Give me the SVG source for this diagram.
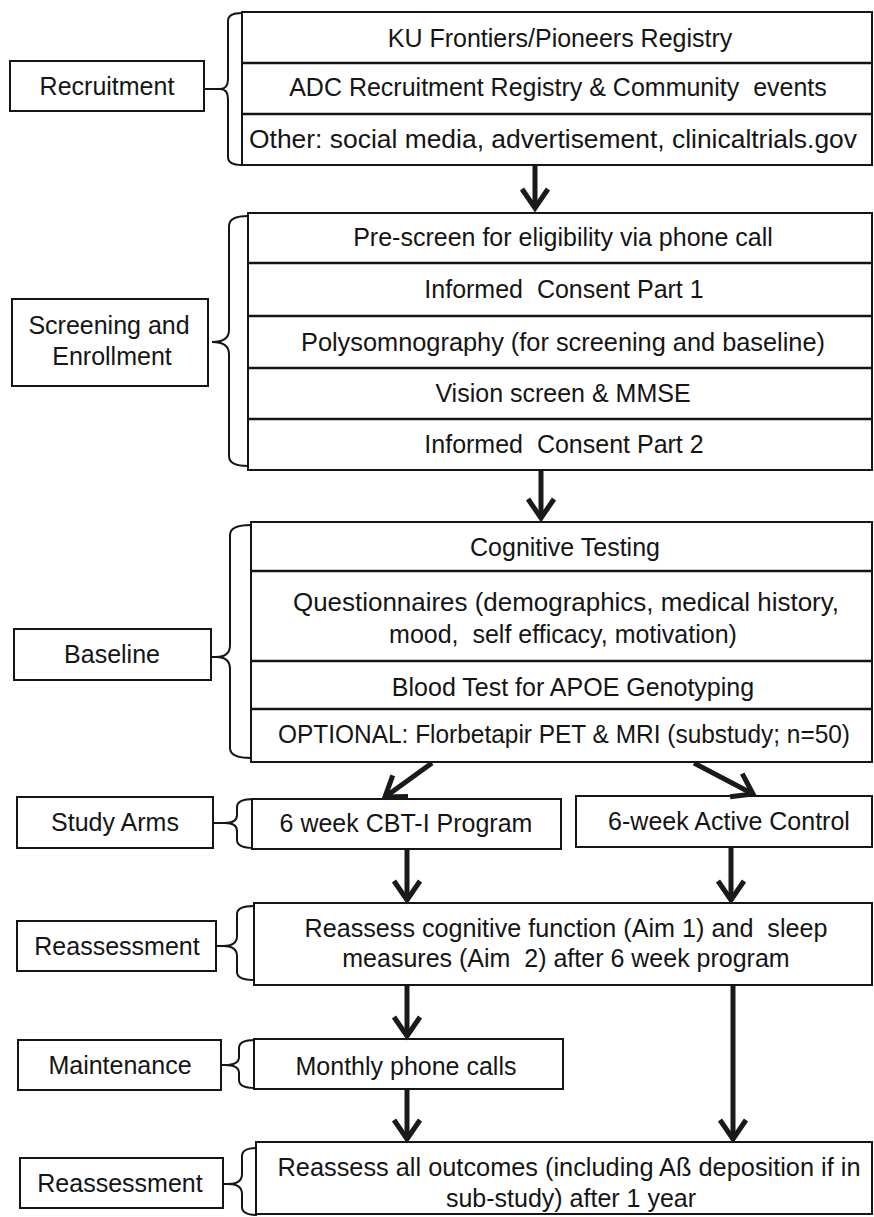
<svg xmlns="http://www.w3.org/2000/svg" width="874" height="1217" viewBox="0 0 874 1217">
<style>
.bx{fill:#fff;stroke:#151515;stroke-width:2}
.rl{stroke:#151515;stroke-width:2.5}
.br{fill:none;stroke:#151515;stroke-width:2}
.t{font-family:"Liberation Sans",Arial,sans-serif;font-size:25px;fill:#151515;text-anchor:middle;white-space:pre}
.ar{fill:none;stroke:#1a1a1a;stroke-width:5}
</style>
<defs>
<marker id="ah" markerUnits="userSpaceOnUse" markerWidth="40" markerHeight="40" viewBox="-24 -20 30 40" refX="0" refY="0" orient="auto">
<path d="M-19,-13 L0,0 L-19,13" fill="none" stroke="#1a1a1a" stroke-width="5" stroke-linejoin="miter"/>
</marker>
</defs>
<rect width="874" height="1217" fill="#fff"/>

<g id="recruitment">
<rect class="bx" x="10" y="61" width="194" height="50"/>
<text class="t" x="107" y="95">Recruitment</text>
<path class="br" d="M204,89 L220,89 M242,13 Q228,13 228,21 L228,79 Q228,89 220,89 Q228,89 228,99 L228,157 Q228,165 242,165"/>
<rect class="bx" x="242" y="12" width="630" height="153"/>
<line class="rl" x1="242" y1="63" x2="872" y2="63"/>
<line class="rl" x1="242" y1="114" x2="872" y2="114"/>
<text class="t" x="560" y="47">KU Frontiers/Pioneers Registry</text>
<text class="t" x="558" y="96">ADC Recruitment Registry &amp; Community  events</text>
<text class="t" x="553" y="148" textLength="608" lengthAdjust="spacingAndGlyphs">Other: social media, advertisement, clinicaltrials.gov</text>
</g>

<g id="screening">
<rect class="bx" x="12" y="299" width="196" height="87"/>
<text class="t" x="109" y="334">Screening and</text>
<text class="t" x="112" y="365">Enrollment</text>
<path class="br" d="M248,216 Q229,216 229,226 L229,330 Q229,342 212,342 Q229,342 229,354 L229,456 Q229,466 248,466"/>
<rect class="bx" x="248" y="213" width="624" height="257"/>
<line class="rl" x1="248" y1="263" x2="872" y2="263"/>
<line class="rl" x1="248" y1="316" x2="872" y2="316"/>
<line class="rl" x1="248" y1="368" x2="872" y2="368"/>
<line class="rl" x1="248" y1="419" x2="872" y2="419"/>
<text class="t" x="563" y="246">Pre-screen for eligibility via phone call</text>
<text class="t" x="564" y="298">Informed  Consent Part 1</text>
<text class="t" x="563" y="351" textLength="524" lengthAdjust="spacingAndGlyphs">Polysomnography (for screening and baseline)</text>
<text class="t" x="563" y="402">Vision screen &amp; MMSE</text>
<text class="t" x="564" y="453">Informed  Consent Part 2</text>
</g>

<g id="baseline">
<rect class="bx" x="14" y="629" width="197" height="51"/>
<text class="t" x="112" y="663">Baseline</text>
<path class="br" d="M211,657 L216,657 M251,525 Q230,525 230,535 L230,645 Q230,657 216,657 Q230,657 230,669 L230,748 Q230,758 251,758"/>
<rect class="bx" x="251" y="522" width="621" height="240"/>
<line class="rl" x1="251" y1="571" x2="872" y2="571"/>
<line class="rl" x1="251" y1="661" x2="872" y2="661"/>
<line class="rl" x1="251" y1="709" x2="872" y2="709"/>
<text class="t" x="565" y="556">Cognitive Testing</text>
<text class="t" x="566" y="611" textLength="546" lengthAdjust="spacingAndGlyphs">Questionnaires (demographics, medical history,</text>
<text class="t" x="563" y="643">mood,  self efficacy, motivation)</text>
<text class="t" x="573" y="696">Blood Test for APOE Genotyping</text>
<text class="t" x="564" y="743" textLength="572" lengthAdjust="spacingAndGlyphs">OPTIONAL: Florbetapir PET &amp; MRI (substudy; n=50)</text>
</g>

<g id="study-arms">
<rect class="bx" x="17" y="797" width="196" height="51"/>
<text class="t" x="115" y="831">Study Arms</text>
<path class="br" d="M213,823 L225,823 M254,799 Q237,799 237,807 L237,815 Q237,823 225,823 Q237,823 237,831 L237,840 Q237,848 254,848"/>
</g>

<g id="cbt">
<rect class="bx" x="252" y="799" width="309" height="50"/>
<text class="t" x="406" y="832">6 week CBT-I Program</text>
</g>

<g id="active-control">
<rect class="bx" x="576" y="796" width="296" height="51"/>
<text class="t" x="729" y="830">6-week Active Control</text>
</g>

<g id="reassessment-1">
<rect class="bx" x="17" y="921" width="199" height="50"/>
<text class="t" x="117" y="955">Reassessment</text>
<path class="br" d="M216,946 L223,946 M254,906 Q237,906 237,914 L237,936 Q237,946 223,946 Q237,946 237,956 L237,972 Q237,980 254,980"/>
<rect class="bx" x="254" y="903" width="618" height="82"/>
<text class="t" x="566" y="937" textLength="523" lengthAdjust="spacingAndGlyphs">Reassess cognitive function (Aim 1) and  sleep</text>
<text class="t" x="566" y="967">measures (Aim  2) after 6 week program</text>
</g>

<g id="maintenance">
<rect class="bx" x="18" y="1040" width="203" height="50"/>
<text class="t" x="120" y="1074">Maintenance</text>
<path class="br" d="M221,1065 L225,1065 M255,1040 Q239,1040 239,1048 L239,1057 Q239,1065 225,1065 Q239,1065 239,1073 L239,1080 Q239,1088 255,1088"/>
</g>

<g id="monthly">
<rect class="bx" x="254" y="1039" width="309" height="50"/>
<text class="t" x="406" y="1075">Monthly phone calls</text>
</g>

<g id="reassessment-2">
<rect class="bx" x="20" y="1158" width="203" height="50"/>
<text class="t" x="120" y="1192">Reassessment</text>
<path class="br" d="M223,1184 L228,1184 M257,1148 Q242,1148 242,1156 L242,1174 Q242,1184 228,1184 Q242,1184 242,1194 L242,1207 Q242,1215 257,1215"/>
<rect class="bx" x="256" y="1142" width="616" height="72"/>
<text class="t" x="569" y="1176" textLength="583" lengthAdjust="spacingAndGlyphs">Reassess all outcomes (including Aß deposition if in</text>
<text class="t" x="571" y="1207">sub-study) after 1 year</text>
</g>

<g id="connectors">
<line class="ar" x1="535" y1="166" x2="535" y2="208" marker-end="url(#ah)"/>
<line class="ar" x1="541" y1="471" x2="541" y2="518" marker-end="url(#ah)"/>
<line class="ar" x1="432" y1="763" x2="385" y2="797" marker-end="url(#ah)"/>
<line class="ar" x1="694" y1="763" x2="753" y2="794" marker-end="url(#ah)"/>
<line class="ar" x1="407" y1="850" x2="407" y2="900" marker-end="url(#ah)"/>
<line class="ar" x1="731" y1="848" x2="731" y2="900" marker-end="url(#ah)"/>
<line class="ar" x1="407" y1="986" x2="407" y2="1036" marker-end="url(#ah)"/>
<line class="ar" x1="407" y1="1090" x2="407" y2="1139" marker-end="url(#ah)"/>
<line class="ar" x1="733" y1="986" x2="733" y2="1139" marker-end="url(#ah)"/>
</g>
</svg>
